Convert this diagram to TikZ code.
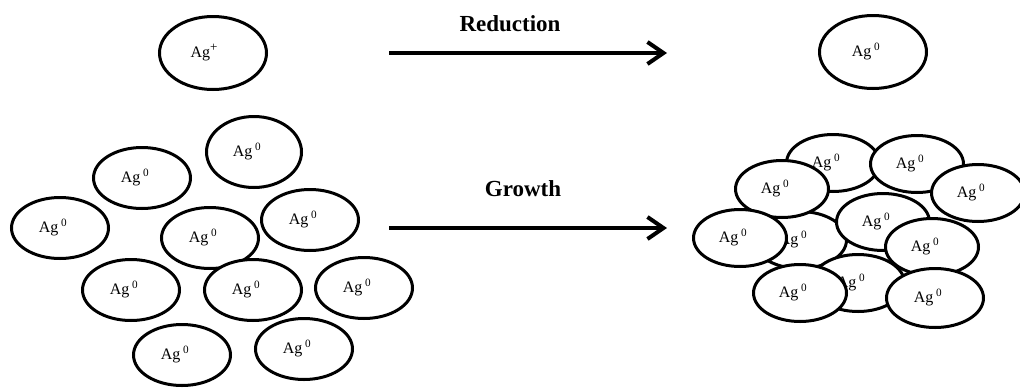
\documentclass[tikz,border=0pt]{standalone}
\usepackage{fontspec}
\setmainfont{Liberation Serif}
\usetikzlibrary{positioning,arrows.meta,shapes.geometric}
\newcommand{\Agion}{\raisebox{5pt}{Ag\raisebox{6pt}{\fontsize{13}{13}\selectfont+}}\hspace*{18pt}}
\newcommand{\Agat}{\raisebox{5pt}{Ag\,\textsuperscript{0}}\hspace*{14pt}}

\begin{document}
\begin{tikzpicture}[x=1pt,y=-1pt,font=\fontsize{16}{18}\selectfont,
 part/.style={draw,ellipse,fill=white,line width=3pt,inner sep=0pt,minimum width=97pt,minimum height=61pt},
 big/.style={part,minimum width=107pt,minimum height=73pt},
 clump/.style={part,minimum width=93pt,minimum height=57pt},
 lab/.style={font=\fontsize{23}{27}\selectfont\bfseries},
 arr/.style={-{Straight Barb[length=16pt,width=22pt]},line width=4pt}]
\useasboundingbox (0,0) rectangle (1020,389);
% top row: reduction
\node[big] (ion) at (213,53) {\Agion};
\node[big] (atom) at (873,52) {\Agat};
\coordinate (r0) at (389,53); \coordinate (r1) at (667,53);
\node[lab] (red) at (510,24) {Reduction};
\draw[arr] (r0)--(r1);
% bottom row: growth
\coordinate (g0) at (389,228); \coordinate (g1) at (667,228);
\node[lab] (gro) at (523,189) {Growth};
\draw[arr] (g0)--(g1);
% separate seeds
\node[part,minimum width=95pt,minimum height=71pt] (s1) at (254,152) {\Agat};
\node[part] (s2) at (142,178) {\Agat};
\node[part] (s3) at (60,228) {\Agat};
\node[part] (s4) at (210,238) {\Agat};
\node[part] (s5) at (310,220) {\Agat};
\node[part] (s6) at (131,290) {\Agat};
\node[part] (s7) at (253,290) {\Agat};
\node[part] (s8) at (364,288) {\Agat};
\node[part] (s9) at (182,355) {\Agat};
\node[part] (s10) at (304,349) {\Agat};
% grown cluster (back to front)
\node[clump] (c1) at (833,163) {\Agat};
\node[clump] (c2) at (800,240) {\Agat};
\node[clump] (c3) at (858,283) {\Agat};
\node[clump] (c4) at (782,189) {\Agat};
\node[clump] (c5) at (917,164) {\Agat};
\node[clump] (c6) at (978,193) {\Agat};
\node[clump] (c7) at (883,222) {\Agat};
\node[clump] (c8) at (932,247) {\Agat};
\node[clump] (c9) at (740,238) {\Agat};
\node[clump] (c10) at (800,293) {\Agat};
\node[clump,minimum width=97pt,minimum height=59pt] (c11) at (935,298) {\Agat};
\end{tikzpicture}
\end{document}
